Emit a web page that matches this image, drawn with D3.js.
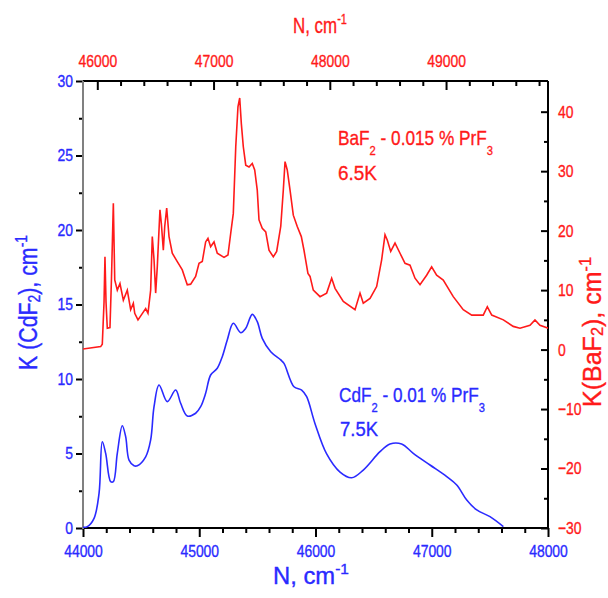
<!DOCTYPE html>
<html><head><meta charset="utf-8">
<script src="https://cdn.jsdelivr.net/npm/d3@7"></script>
<style>body{margin:0;background:#fff} svg{display:block} text{font-family:"Liberation Sans",Arial,sans-serif}</style>
</head><body><svg id="c" width="608" height="598"></svg>
<script>
// CdF2 - 0.01% PrF3, 7.5K (left axis)
const cdfX = [44000,44037,44095,44138,44166,44195,44238,44261,44295,44338,44367,44396,44439,44467,44539,44582,44611,44654,44725,44797,44840,44897,44969,45012,45055,45098,45155,45198,45241,45293,45357,45400,45456,45499,45542,45615,45701,45729,45815,45881,45924,45996,46096,46211,46311,46411,46555,46641,46741,46841,46985,47129,47215,47301,47387,47501,47616];
const cdfK = [0.05,0.09,0.65,2.32,5.79,5.01,3.11,3.11,5.01,6.86,6.13,4.56,4.18,4.18,4.78,5.91,8.14,9.60,8.48,9.26,8.37,7.52,7.70,8.14,9.04,10.27,10.72,11.5,12.62,13.74,13.11,13.40,14.34,13.85,12.73,11.83,11.28,11.05,9.48,9.26,8.81,7.0,4.97,3.75,3.37,3.89,5.12,5.64,5.64,5.01,4.23,3.45,2.89,1.88,1.21,0.76,0.09];
// BaF2 - 0.015% PrF3, 6.5K (right axis)
const bafX = [44000,44152,44166,44181,44189,44198,44209,44232,44245,44261,44273,44295,44318,44347,44381,44410,44433,44445,44473,44501,44539,44559,44582,44596,44611,44625,44639,44662,44674,44691,44703,44720,44740,44768,44811,44854,44883,44897,44926,44969,44998,45026,45055,45075,45098,45127,45155,45213,45247,45271,45293,45314,45333,45348,45362,45379,45400,45428,45456,45477,45499,45514,45542,45572,45600,45637,45666,45701,45723,45738,45757,45781,45809,45843,45878,45901,45935,45953,45981,46039,46096,46139,46168,46239,46340,46383,46411,46469,46526,46569,46598,46618,46647,46684,46727,46770,46813,46856,46899,46956,46999,47042,47099,47185,47271,47344,47443,47478,47516,47616,47701,47759,47845,47888,47931,48003];
const bafK = [0.1,0.5,0.9,8,15.6,8,3.6,3.7,12,24.6,11.7,10.0,11.1,8.3,10.0,6.7,7.8,6.1,5.0,5.8,6.9,6.1,10.0,19.0,15.1,9.5,13.9,23.5,21.2,16.7,20.7,23.8,19.0,16.2,14.8,13.4,11.7,10.9,11.0,12.3,14.5,14.8,18.1,18.7,17.3,18.1,16.2,15.5,15.9,19.6,22.9,34.1,40.8,42.3,38.0,34.1,31.0,30.7,31.3,30.2,26.8,21.8,20.4,19.8,16.7,15.6,16.5,20.7,26.8,31.6,30.2,26.8,22.6,20.7,19.0,16.7,12.8,12.3,10.0,8.9,9.5,12.0,10.3,8.1,6.7,9.5,7.8,8.6,10.6,15.1,19.3,18.4,16.5,17.9,16.2,14.5,14.2,12.0,10.9,12.5,13.9,12.5,11.7,8.9,6.7,5.8,5.8,7.2,5.8,5.0,3.9,3.6,4.1,5.0,4.1,3.6];

const bottomTicks = [44000,45000,46000,47000,48000];
const topTicks = [46000,47000,48000,49000];
const leftTicks = [0,5,10,15,20,25,30];
const rightTicks = [-30,-20,-10,0,10,20,30,40];

const L=83,R=548,T=81,B=528;
const BLUE="#2a2aff", RED="#ff1a1a";
const svg=d3.select("#c");
const x=d3.scaleLinear([44000,48000],[L,R]);
const xTop=d3.scaleLinear([45877,49877],[L,R]);
const yL=d3.scaleLinear([0,30],[B,T]);
const yR=d3.scaleLinear([-30,45.16],[B,T]);
const SX=0.82;

function styleAxis(g,color){
  g.select(".domain").remove();
  g.selectAll("line").attr("stroke","#000").attr("stroke-width",2);
  g.selectAll("text").attr("fill",color).attr("font-size",17)
   .attr("stroke",color).attr("stroke-width",0.35)
   .attr("font-family",'"Liberation Sans",Arial,sans-serif')
   .each(function(){const t=d3.select(this);const xx=+t.attr("x")||0;t.attr("x",xx/SX).attr("transform",`scale(${SX},1)`);});
}
const minorB=d3.range(44000,48001,200).filter(v=>v%1000);
const minorT=d3.range(46000,49877,200).filter(v=>v%1000);
const minorL=[2.5,7.5,12.5,17.5,22.5,27.5];
const minorR=[-25,-15,-5,5,15,25,35];

svg.append("g").attr("transform",`translate(0,${B})`).call(d3.axisBottom(x).tickValues(minorB).tickSize(5).tickFormat("")).call(g=>styleAxis(g,BLUE));
svg.append("g").attr("transform",`translate(0,${B})`).call(d3.axisBottom(x).tickValues(bottomTicks).tickSize(9).tickPadding(8).tickFormat(d3.format("d"))).call(g=>styleAxis(g,BLUE));
svg.append("g").attr("transform",`translate(0,${T})`).call(d3.axisTop(xTop).tickValues(minorT).tickSize(-5).tickFormat("")).call(g=>styleAxis(g,RED));
svg.append("g").attr("transform",`translate(0,${T})`).call(d3.axisTop(xTop).tickValues(topTicks).tickSize(-9).tickPadding(14).tickFormat(d3.format("d"))).call(g=>styleAxis(g,RED));
svg.append("g").attr("transform",`translate(${L},0)`).call(d3.axisLeft(yL).tickValues(minorL).tickSize(4).tickFormat("")).call(g=>styleAxis(g,BLUE));
svg.append("g").attr("transform",`translate(${L},0)`).call(d3.axisLeft(yL).tickValues(leftTicks).tickSize(7).tickPadding(3)).call(g=>styleAxis(g,BLUE));
svg.append("g").attr("transform",`translate(${R},0)`).call(d3.axisRight(yR).tickValues(minorR).tickSize(-4).tickFormat("")).call(g=>styleAxis(g,RED));
svg.append("g").attr("transform",`translate(${R},0)`).call(d3.axisRight(yR).tickValues(rightTicks).tickSize(-7).tickPadding(10)).call(g=>styleAxis(g,RED));

// frame
svg.append("line").attr("x1",L).attr("x2",R).attr("y1",T).attr("y2",T).attr("stroke","#000").attr("stroke-width",2);
svg.append("line").attr("x1",L).attr("x2",R).attr("y1",B).attr("y2",B).attr("stroke","#000").attr("stroke-width",2);
svg.append("line").attr("x1",R).attr("x2",R).attr("y1",T).attr("y2",B).attr("stroke","#000").attr("stroke-width",2);
svg.append("line").attr("x1",L).attr("x2",L).attr("y1",T).attr("y2",B+1).attr("stroke","#808080").attr("stroke-width",2);

svg.append("clipPath").attr("id","clip").append("rect").attr("x",L).attr("y",T).attr("width",R-L).attr("height",B-T);
const plot=svg.append("g").attr("clip-path","url(#clip)");
plot.append("path").datum(d3.zip(bafX,bafK)).attr("fill","none").attr("stroke",RED).attr("stroke-width",1.6)
  .attr("d",d3.line().x(d=>x(d[0])).y(d=>yR(d[1])));
plot.append("path").datum(d3.zip(cdfX,cdfK)).attr("fill","none").attr("stroke",BLUE).attr("stroke-width",1.6)
  .attr("d",d3.line().curve(d3.curveCatmullRom.alpha(0.5)).x(d=>x(d[0])).y(d=>yL(d[1])));

function rich(px,py,rot,parts,size,color,anchor,target,subShift){
  const g=svg.append("g");
  const t=g.append("text").attr("font-size",size).attr("fill",color).attr("text-anchor",anchor)
    .attr("stroke",color).attr("stroke-width",0.35);
  let shift=0;
  parts.forEach(p=>{
    const s=typeof p==="string"?{t:p}:p;
    const ts=t.append("tspan").text(s.t);
    const tgt=s.s==="sub"?subShift*size:s.s==="sup"?-0.42*size:0;
    ts.attr("dy",tgt-shift);shift=tgt;
    if(s.s) ts.attr("font-size",size*0.65);
  });
  const w=t.node().getBBox().width;
  g.attr("transform",`translate(${px},${py}) rotate(${rot}) scale(${target/w},1)`);
}
rich(338,145,0,["BaF",{t:"2",s:"sub"}," - 0.015 % PrF",{t:"3",s:"sub"}],21,RED,"start",155,0.46);
rich(338,180,0,["6.5K"],21,RED,"start",39,0);
rich(339,402,0,["CdF",{t:"2",s:"sub"}," - 0.01 % PrF",{t:"3",s:"sub"}],21,BLUE,"start",146,0.46);
rich(340,436,0,["7.5K"],21,BLUE,"start",38,0);
rich(293,33,0,["N, cm",{t:"-1",s:"sup"}],22,RED,"start",54,0);
rich(273,584,0,["N, cm",{t:"-1",s:"sup"}],23,BLUE,"start",76,0);
rich(37,302.5,-90,["K (CdF",{t:"2",s:"sub"},"), cm",{t:"-1",s:"sup"}],25,BLUE,"middle",135,0.1);
rich(601,332,-90,["K(BaF",{t:"2",s:"sub"},"), cm",{t:"-1",s:"sup"}],25,RED,"middle",150,0.08);
</script></body></html>
